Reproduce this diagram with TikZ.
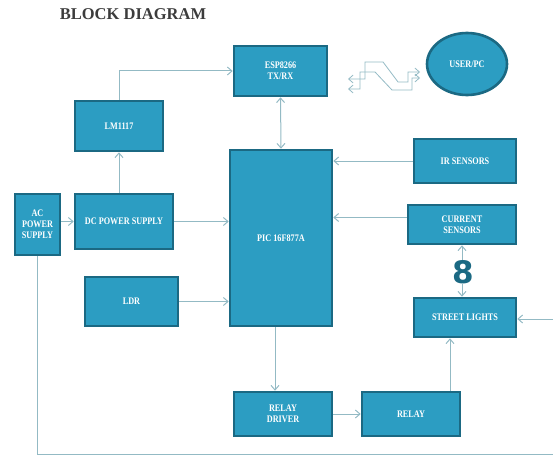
\documentclass[tikz,border=0pt]{standalone}
\usepackage{fontspec}
\setmainfont{Liberation Serif}
\newfontfamily\blockfont[FakeStretch=0.82]{Liberation Serif}
\newfontfamily\coilfont{DejaVu Sans}
\usetikzlibrary{positioning}
\usetikzlibrary{shapes.geometric}
\usetikzlibrary{arrows.meta}
\definecolor{boxfill}{HTML}{2C9DC2}
\definecolor{boxedge}{HTML}{1B6983}
\definecolor{wire}{HTML}{93BAC4}
\definecolor{titlegray}{HTML}{3C3C3C}
\tikzset{%
	>={Straight Barb[length=1.6mm,width=2.8mm]},
	% Specifications for style of nodes:
	base/.style = {rectangle, draw=boxedge, line width=2.6pt, fill=boxfill, text=white, align=center, inner sep=1pt, font=\blockfont\bfseries\fontsize{10}{11}\selectfont},
	block/.style = {base},
	user/.style = {base, ellipse, inner sep=0pt},
	link/.style = {draw=wire, line width=1pt},
}
\begin{document}
\begin{tikzpicture}[x=1pt,y=-1pt]
		\useasboundingbox (0,0) rectangle (553,457);
		\node (Title) [font=\bfseries\fontsize{16.5}{18}\selectfont, text=titlegray] at (133,14) {BLOCK DIAGRAM};
		
		\node (ESP) [block, minimum width=93pt, minimum height=50pt] at (280.5,71) {ESP8266\\TX/RX};
		\node (User) [user, minimum width=80pt, minimum height=62pt] at (467,64) {USER/PC};
		\node (LM1117) [block, minimum width=88pt, minimum height=50pt] at (119,126) {LM1117};
		\node (DC) [block, minimum width=98pt, minimum height=55pt] at (124,221.5) {DC POWER SUPPLY};
		\node (AC) [block, minimum width=45pt, minimum height=61pt] at (37.5,224.5) {AC\\POWER\\SUPPLY};
		\node (PIC) [block, minimum width=102pt, minimum height=176pt] at (281,238) {PIC 16F877A};
		\node (LDR) [block, minimum width=93pt, minimum height=49pt] at (131.5,301.5) {LDR};
		
		\node (IR) [block, minimum width=102pt, minimum height=44pt] at (465,161) {IR SENSORS};
		\node (CurSens) [block, minimum width=108pt, minimum height=39pt] at (462,224.5) {CURRENT\\SENSORS};
		\node (Street) [block, minimum width=102pt, minimum height=39pt] at (465,317.5) {STREET LIGHTS};
		
		\node (RelayDrv) [block, minimum width=98pt, minimum height=44pt] at (283,414) {RELAY\\DRIVER};
		\node (Relay) [block, minimum width=98pt, minimum height=44pt] at (411,414) {RELAY};
		
		\coordinate (MainsR) at (553,454);
		\coordinate (MainsIn) at (553,319);
		
		\draw [link,->] (LM1117.north) |- (ESP.west);
		\draw [link,<->] (ESP.south) -- (PIC.north);
		\draw [link,->] (DC.north -| LM1117.south) -- (LM1117.south);
		\draw [link,->] (AC.east |- DC.west) -- (DC.west);
		\draw [link,->] (DC.east) -- (DC.east -| PIC.west);
		\draw [link,->] (LDR.east) -- (LDR.east -| PIC.west);
		
		\draw [link,->] (IR.west) -- (IR.west -| PIC.east);
		\draw [link,->] ([yshift=7pt]CurSens.west) -- ([yshift=7pt]CurSens.west -| PIC.east);
		\draw [link,<->] (CurSens.south) -- (CurSens.south |- Street.north);
		\node (Coil) [fill=white, inner sep=0pt, text=boxedge, font=\coilfont\bfseries\fontsize{31}{31}\selectfont] at (463,272) {8};
		
		\draw [link,->] ([xshift=-6pt]PIC.south) -- ([xshift=-6pt]PIC.south |- RelayDrv.north);
		\draw [link,->] (RelayDrv.east) -- (Relay.west);
		\draw [link,->] ([xshift=39pt]Relay.north) -- ([xshift=39pt]Relay.north |- Street.south);
		
		\draw [link] (AC.south) |- (MainsR);
		\draw [link,->] (MainsIn) -- (MainsIn -| Street.east);
		
		% wireless link
		\draw [link,line width=0.8pt,<->] (348,79) -- (365,79) -- (365,62) -- (383,62) -- (398,82) -- (408,82) -- (408,72) -- (420,72);
		\draw [link,line width=0.8pt,<->] (348,89) -- (360,89) -- (360,72) -- (375,72) -- (392,90) -- (412,90) -- (412,78) -- (420,78);
		
     \end{tikzpicture}
\end{document}
